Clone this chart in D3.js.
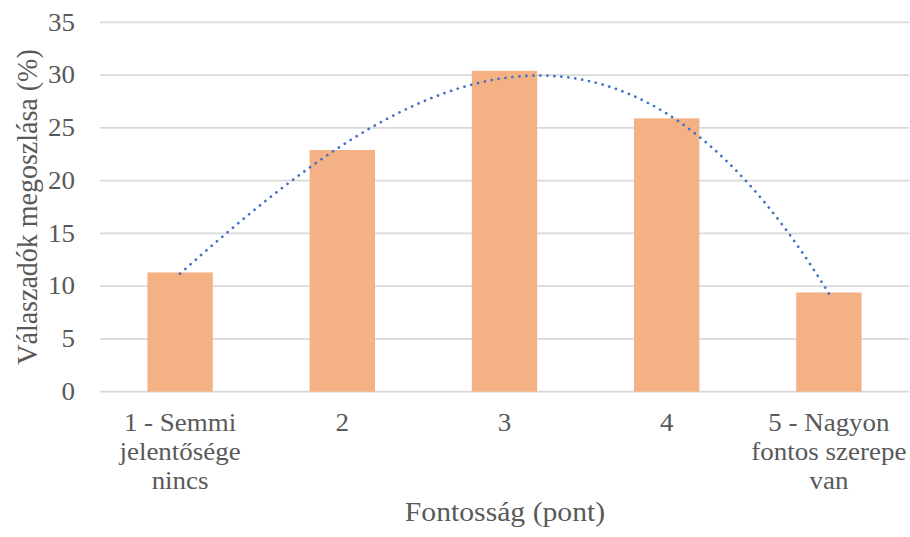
<!DOCTYPE html>
<html><head><meta charset="utf-8">
<script src="https://cdn.jsdelivr.net/npm/d3@7/dist/d3.min.js"></script>
<style>html,body{margin:0;padding:0;background:#fff;}svg{display:block;} text{font-family:"Liberation Serif","Times New Roman",serif;}</style>
</head><body><div id="chart"></div>
<script>
const categories = ["1 - Semmi jelentősége nincs", "2", "3", "4", "5 - Nagyon fontos szerepe van"];
const categoryLines = [["1 - Semmi","jelentősége","nincs"],["2"],["3"],["4"],["5 - Nagyon","fontos szerepe","van"]];
const values = [11.3, 22.9, 30.4, 25.9, 9.4];
const yTicks = [0, 5, 10, 15, 20, 25, 30, 35];
const yTitle = "Válaszadók megoszlása (%)";
const xTitle = "Fontosság (pont)";
const trendOrder = 3;

const W = 910, H = 537;
const plot = {left: 99, right: 910, top: 22.3, bottom: 391.7};
const textColor = "#595959";
const sx = 1.08;

const svg = d3.select("#chart").append("svg").attr("width", W).attr("height", H);

const x = d3.scaleBand().domain(categories).range([plot.left, plot.right]).paddingInner(0.597).paddingOuter(0.2985);
const y = d3.scaleLinear().domain([0, 35]).range([plot.bottom, plot.top]);

// gridlines
svg.append("g").selectAll("line").data(yTicks).join("line")
  .attr("x1", 100).attr("x2", 909)
  .attr("y1", d => y(d)).attr("y2", d => y(d))
  .attr("stroke", "#d9d9d9").attr("stroke-width", 1.8);

// y tick labels
svg.append("g").selectAll("text").data(yTicks).join("text")
  .attr("transform", d => `translate(75,${y(d)}) scale(${sx},1)`)
  .attr("text-anchor", "end").attr("dy", "0.33em")
  .attr("font-size", 25).attr("fill", textColor)
  .text(d => d);

// bars
svg.append("g").selectAll("rect").data(values).join("rect")
  .attr("x", (d, i) => x(categories[i]))
  .attr("width", x.bandwidth())
  .attr("y", d => y(d))
  .attr("height", d => y(0) - y(d))
  .attr("fill", "#f4b183");

// polynomial trendline (least squares, like the spreadsheet trendline)
function polyFit(xs, ys, order) {
  const n = order + 1;
  const A = Array.from({length: n}, () => new Array(n + 1).fill(0));
  xs.forEach((xv, k) => {
    for (let r = 0; r < n; r++) {
      for (let c = 0; c < n; c++) A[r][c] += Math.pow(xv, r + c);
      A[r][n] += ys[k] * Math.pow(xv, r);
    }
  });
  for (let i = 0; i < n; i++) {
    let p = i;
    for (let r = i + 1; r < n; r++) if (Math.abs(A[r][i]) > Math.abs(A[p][i])) p = r;
    const tmp = A[i]; A[i] = A[p]; A[p] = tmp;
    for (let r = 0; r < n; r++) if (r !== i) {
      const f = A[r][i] / A[i][i];
      for (let c = i; c <= n; c++) A[r][c] -= f * A[i][c];
    }
  }
  return A.map((row, i) => row[n] / row[i]);
}
const xsNum = values.map((d, i) => i + 1);
const coef = polyFit(xsNum, values, trendOrder);
const evalPoly = t => coef.reduce((s, c, i) => s + c * Math.pow(t, i), 0);
const xPos = d3.scaleLinear().domain([1, categories.length])
  .range([x(categories[0]) + x.bandwidth() / 2, x(categories[categories.length - 1]) + x.bandwidth() / 2]);
const samples = d3.range(1, categories.length + 0.0001, 0.02);
svg.append("path")
  .datum(samples)
  .attr("d", d3.line().x(t => xPos(t)).y(t => y(evalPoly(t))))
  .attr("fill", "none").attr("stroke", "#4472c4").attr("stroke-width", 2.7)
  .attr("stroke-linecap", "round").attr("stroke-dasharray", "0.1 6.9");

// x labels
const xl = svg.append("g");
categoryLines.forEach((lines, i) => {
  const cx = x(categories[i]) + x.bandwidth() / 2;
  lines.forEach((ln, j) => {
    xl.append("text")
      .attr("transform", `translate(${cx},${431 + j * 29}) scale(${sx},1)`)
      .attr("text-anchor", "middle")
      .attr("font-size", 25).attr("fill", textColor)
      .text(ln);
  });
});

// axis titles
svg.append("text")
  .attr("transform", `translate(${(100 + 910) / 2},521) scale(${sx},1)`)
  .attr("text-anchor", "middle")
  .attr("font-size", 27.5).attr("fill", textColor)
  .text(xTitle);

svg.append("text")
  .attr("transform", `translate(37,${207}) rotate(-90) scale(1,${sx})`)
  .attr("text-anchor", "middle")
  .attr("font-size", 28).attr("fill", textColor)
  .text(yTitle);
</script></body></html>
